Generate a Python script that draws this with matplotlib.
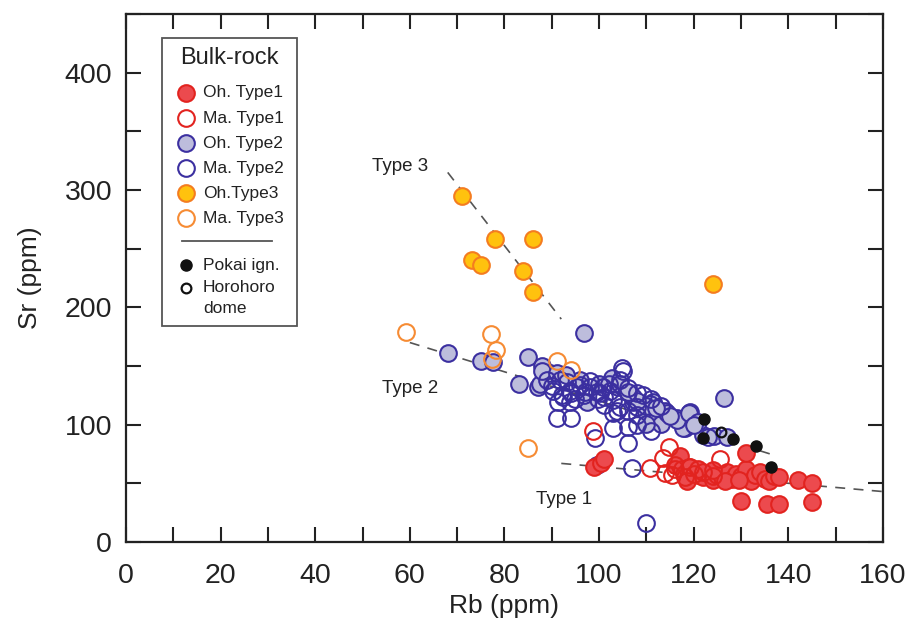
import matplotlib
matplotlib.use("Agg")
import matplotlib.pyplot as plt
from matplotlib.ticker import MultipleLocator
from matplotlib.patches import Rectangle

plt.rcParams['font.family'] = ['Liberation Sans', 'DejaVu Sans']

# Bulk-rock data (Rb, Sr in ppm)
oh_type1_rb = [99, 100.5, 101, 117, 116, 117.5, 118, 119, 120, 121, 122, 123, 124, 125,
               126, 127, 128, 129, 130, 131, 131, 132, 133, 134, 135, 136, 137, 138,
               142, 145, 130, 135.5, 138, 145, 119, 121, 124, 118.5, 126.5, 129.5]
oh_type1_sr = [64, 67, 71, 73, 66, 62, 58, 55, 60, 57, 55, 59, 53, 57,
               55, 60, 54, 58, 56, 62, 76, 52, 57, 60, 54, 52, 56, 55,
               53, 50, 35, 32, 32, 34, 64, 62, 61, 52, 52, 53]

ma_type1_rb = [98.7, 110.8, 113.5, 114.8, 114, 115.4, 119.2, 118.2, 125.6, 116, 120, 122, 124]
ma_type1_sr = [95, 63, 72, 81, 58.7, 57, 64, 55, 70.6, 62, 58, 60, 56]

oh_type2_rb = [68, 75, 77.6, 85, 88, 83, 87, 89.6, 87.5, 88, 91, 96, 97.5, 96.8,
               102.7, 104, 104.4, 107.2, 107.2, 111.4, 110, 112.3, 110.8, 114, 116.5,
               118.2, 119.3, 113, 110, 117.8, 122, 124.3, 127, 126.3, 110, 114.4,
               116.5, 119, 121, 115, 112, 108, 106, 100, 93, 120]
oh_type2_sr = [161, 154, 153, 158, 150, 135, 132, 144, 135, 146, 144, 138, 119, 178,
               140, 132, 135, 119, 124, 119, 111, 106, 118, 112, 106,
               97, 111, 101, 101, 97, 91, 90, 89.6, 122.5, 116, 110,
               104, 110, 102, 107, 114, 120, 128, 135, 142, 100]

ma_type2_rb = [91.8, 93.2, 90.3, 92.2, 93.9, 95.3, 96.7, 98.1, 99.6, 100.8, 102.3,
               91.3, 93.9, 99.8, 103, 104.4, 103, 106, 105, 104.4, 104.9, 109.3,
               108, 106, 103, 99.2, 91.1, 94.1, 107, 99.5, 110, 106, 103.8, 108,
               100.2, 94, 92.4, 96, 98, 101, 97, 95, 102, 123, 111, 108, 101, 106,
               108, 111, 113, 89, 90]
ma_type2_sr = [138, 136, 129, 125, 129, 132, 125, 132, 128, 132, 129,
               119, 119, 122, 121, 115, 110, 112, 146, 138, 148, 125,
               99.6, 84, 97, 89, 105.5, 106, 63, 65.5, 16, 98, 112, 115,
               127, 127, 124, 134, 137, 124, 128, 122, 135, 89.5, 95, 108, 117, 131,
               127, 122, 116, 138, 133]

oh_type3_rb = [71, 73.2, 75.1, 78, 86, 84, 86, 124.1]
oh_type3_sr = [295, 240, 236, 258, 258, 231, 213, 220]

ma_type3_rb = [59.2, 77.2, 78.2, 77.4, 91.1, 94.1, 85]
ma_type3_sr = [179, 177, 164, 156, 154, 147, 80]

pokai_rb = [122.2, 122, 128.3, 133.2, 136.4]
pokai_sr = [105, 88.5, 88, 82, 64]

horohoro_rb = [125.8]
horohoro_sr = [94]

# trend lines (end points) and their labels
trend_type1_rb = [92, 160]
trend_type1_sr = [67, 43]
trend_type2_rb = [60, 137]
trend_type2_sr = [170, 74]
trend_type3_rb = [68, 92]
trend_type3_sr = [315, 190]

trend_labels = ['Type 1', 'Type 2', 'Type 3']
trend_label_rb = [92.5, 60, 58]
trend_label_sr = [36, 131, 320]

# styles
red_fill, red_edge = '#EC4A4E', '#E2231F'
blue_fill, blue_edge = '#BDBDDC', '#3B2FA0'
orange_fill, orange_edge = '#FFC20E', '#F47C20'
orange_open = '#F68B33'
ms = 12
mew = 1.5

fig = plt.figure(figsize=(9.09, 6.28), dpi=100)
ax = fig.add_axes([0.1386, 0.1369, 0.8328, 0.8408])

dash = dict(color='#555555', lw=1.2, dashes=(6, 5), zorder=1)
ax.plot(trend_type1_rb, trend_type1_sr, **dash)
ax.plot(trend_type2_rb, trend_type2_sr, **dash)
ax.plot(trend_type3_rb, trend_type3_sr, **dash)

for lab, x, y in zip(trend_labels, trend_label_rb, trend_label_sr):
    ax.text(x, y, lab, fontsize=13.5, color='#222222', ha='center', va='center')

ax.plot(oh_type2_rb, oh_type2_sr, 'o', ms=ms, mfc=blue_fill, mec=blue_edge, mew=mew, zorder=2)
ax.plot(ma_type2_rb, ma_type2_sr, 'o', ms=ms, mfc='none', mec=blue_edge, mew=mew, zorder=3)
ax.plot(oh_type1_rb, oh_type1_sr, 'o', ms=ms, mfc=red_fill, mec=red_edge, mew=mew, zorder=3)
ax.plot(ma_type1_rb, ma_type1_sr, 'o', ms=ms, mfc='none', mec=red_edge, mew=mew, zorder=4)
ax.plot(oh_type3_rb, oh_type3_sr, 'o', ms=ms, mfc=orange_fill, mec=orange_edge, mew=mew, zorder=3)
ax.plot(ma_type3_rb, ma_type3_sr, 'o', ms=ms, mfc='none', mec=orange_open, mew=mew, zorder=4)
ax.plot(pokai_rb, pokai_sr, 'o', ms=8, mfc='#111111', mec='#111111', zorder=5)
ax.plot(horohoro_rb, horohoro_sr, 'o', ms=7, mfc='none', mec='#111111', mew=1.6, zorder=5)

ax.set_xlim(0, 160)
ax.set_ylim(0, 450)
ax.xaxis.set_major_locator(MultipleLocator(20))
ax.xaxis.set_minor_locator(MultipleLocator(10))
ax.yaxis.set_major_locator(MultipleLocator(100))
ax.yaxis.set_minor_locator(MultipleLocator(50))
ax.tick_params(which='both', direction='in', length=11, width=1.5, color='#222222',
               top=True, right=True, labelsize=20.5, labelcolor='#222222')
ax.tick_params(axis='x', pad=15)
ax.tick_params(axis='y', pad=10)
for s in ax.spines.values():
    s.set_linewidth(1.6)
    s.set_color('#222222')

ax.set_xlabel('Rb (ppm)', fontsize=19, color='#222222', labelpad=4)
ax.set_ylabel('Sr (ppm)', fontsize=19, color='#222222', labelpad=16)

# legend box drawn by hand (has a separator line)
ax.add_patch(Rectangle((0.0476, 0.409), 0.1783, 0.5455, transform=ax.transAxes,
                       fill=True, fc='white', ec='#555555', lw=1.3, zorder=6))
ax.text(0.1367, 0.9167, 'Bulk-rock', transform=ax.transAxes, fontsize=17,
        color='#222222', ha='center', va='center', zorder=7)

leg_items = [
    ('Oh. Type1', red_fill, red_edge, ms),
    ('Ma. Type1', 'none', red_edge, ms),
    ('Oh. Type2', blue_fill, blue_edge, ms),
    ('Ma. Type2', 'none', blue_edge, ms),
    ('Oh.Type3', orange_fill, orange_edge, ms),
    ('Ma. Type3', 'none', orange_open, ms),
]
leg_y = [0.8504, 0.8030, 0.7557, 0.7083, 0.6610, 0.6136]
for (lab, fc, ec, size), y in zip(leg_items, leg_y):
    ax.plot([0.0793], [y], 'o', ms=size, mfc=fc, mec=ec, mew=mew,
            transform=ax.transAxes, zorder=7, clip_on=False)
    ax.text(0.1017, y, lab, transform=ax.transAxes, fontsize=12.5, color='#222222',
            va='center', zorder=7)

ax.plot([0.074, 0.193], [0.5701, 0.5701], color='#555555', lw=1.3,
        transform=ax.transAxes, zorder=7)
ax.plot([0.0793], [0.5246], 'o', ms=8, mfc='#111111', mec='#111111',
        transform=ax.transAxes, zorder=7)
ax.text(0.1017, 0.5246, 'Pokai ign.', transform=ax.transAxes, fontsize=12.5,
        color='#222222', va='center', zorder=7)
ax.plot([0.0793], [0.4811], 'o', ms=7, mfc='none', mec='#111111', mew=1.6,
        transform=ax.transAxes, zorder=7)
ax.text(0.1017, 0.4811, 'Horohoro', transform=ax.transAxes, fontsize=12.5,
        color='#222222', va='center', zorder=7)
ax.text(0.1017, 0.4432, 'dome', transform=ax.transAxes, fontsize=12.5,
        color='#222222', va='center', zorder=7)

fig.savefig('out.png', dpi=100)
